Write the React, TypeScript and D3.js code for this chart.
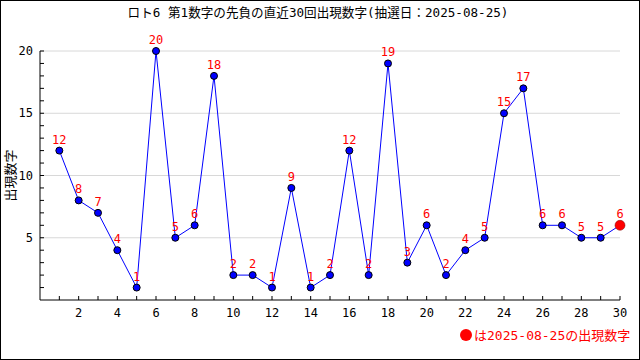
import React from "react";
import * as d3 from "d3";

const title = "ロト6 第1数字の先負の直近30回出現数字(抽選日：2025-08-25)";
const yLabel = "出現数字";
const legendText = "は2025-08-25の出現数字";
const draws = d3.range(1, 31);
const values = [12, 8, 7, 4, 1, 20, 5, 6, 18, 2, 2, 1, 9, 1, 2, 12, 2, 19, 3, 6, 2, 4, 5, 15, 17, 6, 6, 5, 5, 6];
const xTicks = [2, 4, 6, 8, 10, 12, 14, 16, 18, 20, 22, 24, 26, 28, 30];
const yTicks = [5, 10, 15, 20];

const W = 640, H = 360;
const L = 40, R = 620, T = 51, B = 300;
const FONT = "'DejaVu Sans Mono', 'Noto Sans CJK JP', monospace";

export default function App() {
  const x = d3.scaleLinear().domain([0, 30]).range([L, R]);
  const y = d3.scaleLinear().domain([0, 20]).range([B, T]);
  const line = d3.line<number>().x((_, i) => x(draws[i])).y((d) => y(d));
  const last = values.length - 1;
  return (
    <svg width={W} height={H} style={{ position: "absolute", left: 0, top: 0 }} fontFamily={FONT}>
      <rect x={0.5} y={0.5} width={W - 1} height={H - 1} fill="#fff" stroke="#000" />
      <text x={318} y={17} textAnchor="middle" fontSize={12.6} fill="#000">{title}</text>
      {yTicks.map((t) => (
        <line key={"g" + t} x1={L} x2={R} y1={y(t)} y2={y(t)} stroke="#d8d8d8" />
      ))}
      {d3.range(1, 21).map((t) => (
        <line key={"yt" + t} x1={L} x2={L + 4} y1={y(t)} y2={y(t)} stroke="#000" />
      ))}
      {d3.range(1, 31).map((t) => (
        <line key={"xt" + t} x1={x(t)} x2={x(t)} y1={B} y2={B - 4} stroke="#000" />
      ))}
      <line x1={L} x2={L} y1={y(20)} y2={B} stroke="#000" />
      <line x1={L} x2={R} y1={B} y2={B} stroke="#000" />
      {yTicks.map((t) => (
        <text key={"yl" + t} x={33} y={y(t) + 4} textAnchor="end" fontSize={12} fill="#000">{t}</text>
      ))}
      {xTicks.map((t) => (
        <text key={"xl" + t} x={x(t)} y={317} textAnchor="middle" fontSize={12} fill="#000">{t}</text>
      ))}
      <text transform={`translate(15,${(T + B) / 2}) rotate(-90)`} textAnchor="middle" fontSize={13} fill="#000">{yLabel}</text>
      <path d={line(values) || ""} fill="none" stroke="#0000ff" strokeWidth={1} />
      {values.map((v, i) => (
        i === last ? null :
        <circle key={"c" + i} cx={x(draws[i])} cy={y(v)} r={3.5} fill="#0000ff" stroke="#000" strokeWidth={1} />
      ))}
      <circle cx={x(draws[last])} cy={y(values[last])} r={5} fill="#ff0000" stroke="#800000" strokeWidth={0.5} />
      {values.map((v, i) => (
        <text key={"v" + i} x={x(draws[i])} y={y(v) - 7} textAnchor="middle" fontSize={12} fill="#ff0000">{v}</text>
      ))}
      <circle cx={466} cy={335} r={6} fill="#ff0000" />
      <text x={474} y={340} fontSize={13} fill="#ff0000">{legendText}</text>
    </svg>
  );
}
